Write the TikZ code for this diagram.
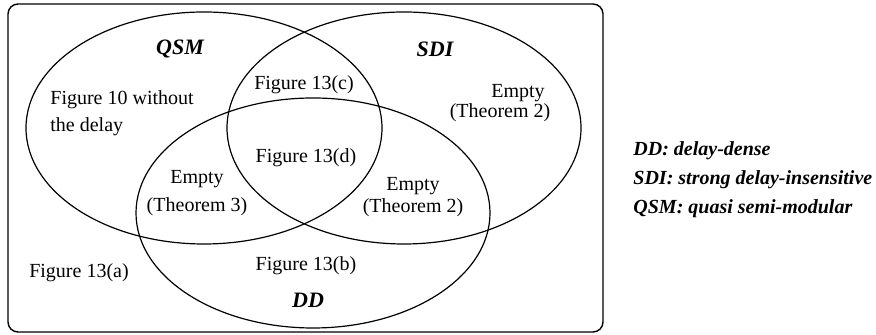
\documentclass[tikz,border=0pt]{standalone}
\usepackage{fontspec}
\setmainfont{Liberation Serif}
\usetikzlibrary{positioning}

\begin{document}
\begin{tikzpicture}[x=0.5pt, y=0.5pt,
  every node/.style={font=\fontsize{10}{12}\selectfont, inner sep=0pt},
  setname/.style={font=\fontsize{11}{13}\selectfont\bfseries\itshape},
  region/.style={align=center},
  keyline/.style={anchor=west, font=\fontsize{10}{12}\selectfont\bfseries\itshape},
  setline/.style={line width=0.6pt}]

\useasboundingbox (0,0) rectangle (876,335);

% Outer frame
\draw[line width=0.7pt, rounded corners=5pt] (8,3) rectangle (603,331);

% Centres of the three sets
\coordinate (cQSM) at (204,207);
\coordinate (cSDI) at (404,207);
\coordinate (cDD) at (313,122);

% Set ellipses
\draw[setline] (cQSM) ellipse [x radius=178, y radius=116];
\draw[setline] (cSDI) ellipse [x radius=177, y radius=116];
\draw[setline] (cDD) ellipse [x radius=177, y radius=115];

% Set names
\node[setname] (qsmname) at (180,286) {QSM};
\node[setname] (sdiname) at (435,286) {SDI};
\node[setname] (ddname) at (308,35) {DD};

% Region labels
\node[anchor=west, align=left] (fig10) at (50,221.5) {Figure 10 without\\[1.5pt]the delay};
\node (fig13c) at (304,250) {Figure 13(c)};
\node (fig13d) at (306,177) {Figure 13(d)};
\node (fig13b) at (306,69) {Figure 13(b)};
\node (fig13a) at (79,62) {Figure 13(a)};
\node[region] (emptyqd) at (197,141.5) {Empty\\[2pt](Theorem 3)};
\node[region] (emptysd) at (413,138) {Empty\\[-1pt](Theorem 2)};
\node[region] (emptysdi) at (500,232) {\hspace*{18pt}Empty\\[-2pt](Theorem 2)};

% Legend
\node[keyline] (keydd) at (633,184) {DD: delay-dense};
\node[keyline] (keysdi) at (633,155) {SDI: strong delay-insensitive};
\node[keyline] (keyqsm) at (633,126) {QSM: quasi semi-modular};

\end{tikzpicture}
\end{document}
